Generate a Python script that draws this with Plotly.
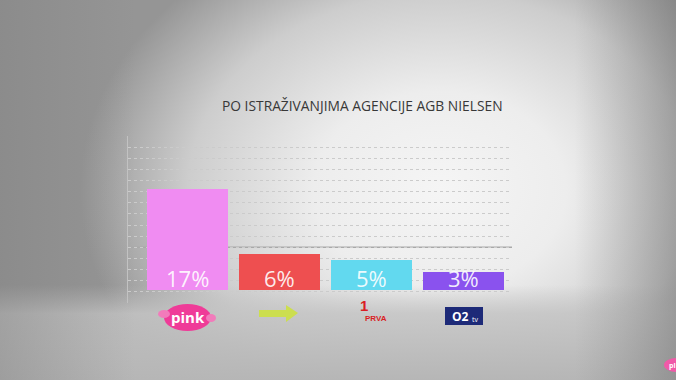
import base64
import plotly.graph_objects as go

# Audience share by channel
channels = ["Pink", "Zeleni", "Prva", "O2"]
shares = [17, 6, 5, 3]
bar_colors = ["#f08cf2", "#ee4f50", "#62d9ef", "#8a52ee"]
title_text = "PO ISTRAŽIVANJIMA AGENCIJE AGB NIELSEN"

W, H = 676, 380
M_L, M_R, M_T, M_B = 128, 164, 136, 77
PW, PH = W - M_L - M_R, H - M_T - M_B

Y_MIN, Y_MAX = -2.19, 25.98
N_GRID = 15
GRID_STEP = (Y_MAX - Y_MIN) / N_GRID


def px(x):
    return (x - M_L) / PW


def py(y):
    return (H - M_B - y) / PH


# studio-style spotlight backdrop
svg = f"""<svg xmlns='http://www.w3.org/2000/svg' width='{W}' height='{H}' viewBox='0 0 {W} {H}'>
<defs>
<radialGradient id='spot' gradientUnits='userSpaceOnUse' cx='440' cy='190' r='360'
 gradientTransform='translate(440 190) scale(1 0.78) translate(-440 -190)'>
<stop offset='0' stop-color='#f5f5f5'/>
<stop offset='0.35' stop-color='#ededed'/>
<stop offset='0.7' stop-color='#cdcdcd'/>
<stop offset='1' stop-color='#959595'/>
</radialGradient>
<linearGradient id='floor' x1='0' y1='0' x2='0' y2='1'>
<stop offset='0' stop-color='#c2c2c2' stop-opacity='0'/>
<stop offset='0.3' stop-color='#c4c4c4' stop-opacity='0.85'/>
<stop offset='1' stop-color='#b6b6b6' stop-opacity='1'/>
</linearGradient>
<linearGradient id='sides' x1='0' y1='0' x2='1' y2='0'>
<stop offset='0' stop-color='#808080' stop-opacity='0.45'/>
<stop offset='0.2' stop-color='#808080' stop-opacity='0'/>
<stop offset='0.85' stop-color='#808080' stop-opacity='0'/>
<stop offset='1' stop-color='#707070' stop-opacity='0.5'/>
</linearGradient>
</defs>
<rect width='{W}' height='{H}' fill='#959595'/>
<rect width='{W}' height='{H}' fill='url(#spot)'/>
<rect y='285' width='{W}' height='{H - 285}' fill='url(#floor)'/>
<rect width='{W}' height='{H}' fill='url(#sides)'/>
</svg>"""
bg_uri = "data:image/svg+xml;base64," + base64.b64encode(svg.encode()).decode()

fig = go.Figure()
fig.add_trace(go.Bar(
    x=list(range(len(channels))),
    y=shares,
    width=0.882,
    marker=dict(color=bar_colors, line=dict(width=0)),
    hoverinfo="skip",
))

annotations = []
for i, v in enumerate(shares):
    annotations.append(dict(
        x=i, y=2.0, xref="x", yref="y", text=f"{v}%", showarrow=False,
        font=dict(family="Open Sans", size=22, color="rgba(255,255,255,0.9)"),
        xanchor="center", yanchor="middle",
    ))


def label(x, y, text, size, color, family="Open Sans"):
    return dict(x=px(x), y=py(y), xref="paper", yref="paper", text=text,
                showarrow=False, xanchor="center", yanchor="middle",
                font=dict(family=family, size=size, color=color))


annotations.append(label(362, 105, title_text, 13.8, "#383838"))

shapes = [
    # solid reference line
    dict(type="line", xref="paper", yref="y", x0=0, x1=1,
         y0=Y_MIN + 5 * GRID_STEP, y1=Y_MIN + 5 * GRID_STEP,
         line=dict(color="#a9a9a9", width=1.5), layer="below"),
    # channel logos
    dict(type="circle", xref="paper", yref="paper",
         x0=px(164), x1=px(211), y0=py(331), y1=py(304),
         fillcolor="#ef3b98", line=dict(width=0), layer="above"),
    dict(type="circle", xref="paper", yref="paper",
         x0=px(158), x1=px(170), y0=py(318), y1=py(310),
         fillcolor="#f27bbb", line=dict(width=0), layer="above"),
    dict(type="circle", xref="paper", yref="paper",
         x0=px(206), x1=px(216), y0=py(322), y1=py(314),
         fillcolor="#f27bbb", line=dict(width=0), layer="above"),
    dict(type="path", xref="paper", yref="paper",
         path=(f"M {px(259)},{py(310)} L {px(286)},{py(310)} L {px(286)},{py(305)} "
               f"L {px(298)},{py(313)} L {px(286)},{py(322)} L {px(286)},{py(317)} "
               f"L {px(259)},{py(317)} Z"),
         fillcolor="#cce23a", line=dict(width=0), opacity=0.85, layer="above"),
    dict(type="rect", xref="paper", yref="paper",
         x0=px(445), x1=px(483), y0=py(325), y1=py(307),
         fillcolor="#1d2a78", line=dict(width=0), layer="above"),
    dict(type="circle", xref="paper", yref="paper",
         x0=px(664), x1=px(690), y0=py(372), y1=py(358),
         fillcolor="#f05aa8", line=dict(width=0), layer="above"),
]

annotations += [
    label(188, 317, "<b>pink</b>", 15, "white"),
    label(364, 305, "<b>1</b>", 15, "#d91e24", "Liberation Sans"),
    label(376, 318, "<b>PRVA</b>", 8, "#d91e24", "Liberation Sans"),
    label(460, 316, "<b>O2</b>", 12, "white"),
    label(475, 319, "tv", 7, "white"),
    label(672, 365, "<b>pi</b>", 7, "white"),
]

fig.update_layout(
    width=W, height=H, autosize=False,
    margin=dict(l=M_L, r=M_R, t=M_T, b=M_B, pad=0),
    paper_bgcolor="#bdbdbd",
    plot_bgcolor="rgba(0,0,0,0)",
    showlegend=False,
    bargap=0,
    xaxis=dict(range=[-0.648, 3.533], showgrid=False, zeroline=False,
               showticklabels=False, ticks="", showline=False, fixedrange=True),
    yaxis=dict(range=[Y_MIN, Y_MAX], tick0=Y_MIN, dtick=GRID_STEP,
               showgrid=True, gridcolor="#cbcbcb", griddash="dot", gridwidth=1,
               zeroline=False, showticklabels=False, ticks="",
               showline=True, linecolor="#c2c2c2", linewidth=1, fixedrange=True),
    images=[dict(source=bg_uri, xref="paper", yref="paper",
                 x=-M_L / PW, y=1 + M_T / PH, sizex=W / PW, sizey=H / PH,
                 xanchor="left", yanchor="top", sizing="stretch", layer="below")],
    shapes=shapes,
    annotations=annotations,
)

fig.write_html("out.html", config={"displayModeBar": False})
